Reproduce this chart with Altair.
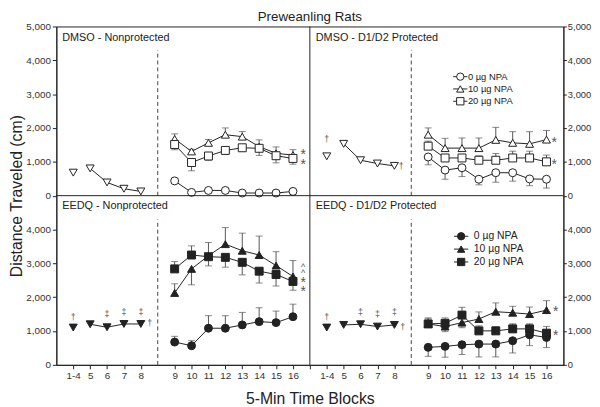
import altair as alt
import pandas as pd

FONT = "Liberation Sans"
INK = "#222222"

# ---------------- data ----------------
pre_blocks = ["1-4", "5", "6", "7", "8"]
npa_blocks = ["9", "10", "11", "12", "13", "14", "15", "16"]
tick_labels = [""] + pre_blocks + [""] + npa_blocks  # slot 0..14 inside a panel

main_title = "Preweanling Rats"
panel_names = ["DMSO - Nonprotected", "DMSO - D1/D2 Protected",
               "EEDQ - Nonprotected", "EEDQ - D1/D2 Protected"]
dose_labels = ["0 \u00b5g NPA", "10 \u00b5g NPA", "20 \u00b5g NPA"]

# DMSO - Nonprotected (signed SEM: + drawn upward, - drawn downward)
dn_pre = [680, 805, 390, 205, 125]
dn_pre_err = [0, 0, 0, 0, 0]
dn_0 = [436, 96, 154, 154, 78, 78, 78, 126]
dn_0_err = [0, 0, 0, 0, 0, 0, 0, 0]
dn_10 = [1676, 1308, 1561, 1802, 1744, 1450, 1250, 1200]
dn_10_err = [150, 60, 100, 200, 150, 200, 190, 160]
dn_20 = [1512, 980, 1172, 1337, 1415, 1400, 1180, 1100]
dn_20_err = [-155, -245, -125, -120, -100, -210, -210, -170]

# DMSO - D1/D2 Protected
dp_pre = [1163, 1531, 1047, 950, 881]
dp_pre_err = [0, 0, 0, 0, 0]
dp_0 = [1143, 756, 824, 485, 678, 678, 494, 485]
dp_0_err = [-230, -270, -260, -165, -280, -250, -200, -260]
dp_10 = [1802, 1405, 1405, 1405, 1648, 1561, 1531, 1657]
dp_10_err = [200, 290, 300, 300, 370, 330, 360, 270]
dp_20 = [1463, 1114, 1114, 1047, 1047, 1114, 1114, 1000]
dp_20_err = [150, 100, 100, 130, 200, 200, 200, 200]

# EEDQ - Nonprotected
en_pre = [1102, 1199, 1111, 1208, 1208]
en_pre_err = [0, 80, 80, 80, 80]
en_0 = [673, 565, 1082, 1082, 1180, 1277, 1248, 1423]
en_0_err = [170, 150, 370, 370, 370, 410, 340, 370]
en_10 = [2125, 2836, 3225, 3567, 3372, 3246, 2934, 2612]
en_10_err = [270, -470, -300, 490, 520, 560, 410, 470]
en_20 = [2836, 3246, 3196, 3177, 3030, 2768, 2670, 2465]
en_20_err = [215, 270, 420, -290, -370, -350, -340, -260]

# EEDQ - D1/D2 Protected
ep_pre = [1102, 1180, 1199, 1131, 1180]
ep_pre_err = [0, 80, 80, 80, 80]
ep_0 = [517, 546, 595, 614, 614, 712, 887, 810]
ep_0_err = [-265, -320, -290, -380, -380, -360, -320, -300]
ep_10 = [1209, 1131, 1248, 1354, 1570, 1540, 1500, 1617]
ep_10_err = [150, -150, -150, 210, 260, 190, 210, 280]
ep_20 = [1209, 1228, 1471, 1004, 1004, 1063, 1063, 936]
ep_20_err = [180, 160, 230, 150, 120, 150, 150, 200]

panel_series = [
    [(dn_pre, dn_pre_err), (dn_0, dn_0_err), (dn_10, dn_10_err), (dn_20, dn_20_err)],
    [(dp_pre, dp_pre_err), (dp_0, dp_0_err), (dp_10, dp_10_err), (dp_20, dp_20_err)],
    [(en_pre, en_pre_err), (en_0, en_0_err), (en_10, en_10_err), (en_20, en_20_err)],
    [(ep_pre, ep_pre_err), (ep_0, ep_0_err), (ep_10, ep_10_err), (ep_20, ep_20_err)],
]

# significance marks: (text, panel, slot, value)
notes = [
    ("*", 0, 14.6, 1290), ("*", 0, 14.6, 980),
    ("\u2020", 1, 1, 1686), ("\u2020", 1, 5.41, 881), ("*", 1, 14.45, 1648), ("*", 1, 14.45, 997),
    ("\u2020", 2, 1, 1424), ("\u2021", 2, 3, 1490), ("\u2021", 2, 4, 1570), ("\u2021", 2, 5, 1570),
    ("\u2020", 2, 5.53, 1228), ("^", 2, 14.6, 2880), ("^", 2, 14.6, 2700),
    ("*", 2, 14.6, 2500), ("*", 2, 14.6, 2240),
    ("\u2020", 3, 1, 1424), ("\u2021", 3, 3, 1550), ("\u2021", 3, 4, 1490), ("\u2021", 3, 5, 1550),
    ("\u2020", 3, 5.49, 1131), ("*", 3, 14.55, 1637), ("*", 3, 14.55, 936),
]

# ---------------- layout (panel placement in the shared coordinate frame) ----------------
panel_xoff = [0, 15, 0, 15]
panel_yoff = [5000, 5000, 0, 0]
panel_filled = [False, False, True, True]
series_shape = ["triangle-down", "circle", "triangle-up", "square"]

rows = []
for p in range(4):
    for s, (vals, errs) in enumerate(panel_series[p]):
        for i, (v, e) in enumerate(zip(vals, errs)):
            slot = i + 1 if s == 0 else i + 7
            grp = f"{p}-{s}" if not (s == 0 and i == 0) else f"{p}-lone"
            rows.append(dict(
                x=panel_xoff[p] + slot,
                y=panel_yoff[p] + v,
                y2=panel_yoff[p] + v + e,
                err=e,
                shape=series_shape[s],
                fill=INK if panel_filled[p] else "white",
                grp=grp,
            ))
df = pd.DataFrame(rows)
df_err = df[df["err"] != 0]

dash_df = pd.DataFrame(dict(x=[6, 21, 6, 21], y=[5000, 5000, 0, 0], y2=[9300, 9300, 4300, 4300]))
vdiv_df = pd.DataFrame(dict(x=[15], y=[0], y2=[10000]))
hdiv_df = pd.DataFrame(dict(x=[0], x2=[30], y=[5000]))
main_df = pd.DataFrame(dict(text=[main_title], x=[15], y=[10000]))

title_df = pd.DataFrame(dict(
    text=panel_names,
    x=[0.35, 15.35, 0.35, 15.35],
    y=[9660, 9660, 4680, 4680],
))

notes_df = pd.DataFrame(dict(
    text=[n[0] for n in notes],
    x=[panel_xoff[n[1]] + n[2] for n in notes],
    y=[panel_yoff[n[1]] + n[3] for n in notes],
))
star_df = notes_df[notes_df["text"] == "*"]
other_df = notes_df[notes_df["text"] != "*"]

leg_rows = []
for p, sx, tx, ys in [(1, 23.9, 24.35, [8517, 8154, 7790]), (3, 23.95, 24.7, [3800, 3420, 3040])]:
    for k in range(3):
        leg_rows.append(dict(x=sx, xa=sx - 0.42, xb=sx + 0.42, tx=tx, y=ys[k],
                             text=dose_labels[k], shape=series_shape[k + 1],
                             fill=INK if panel_filled[p] else "white",
                             fs=9.5 if p == 1 else 10.5))
leg_df = pd.DataFrame(leg_rows)

# ---------------- encodings ----------------
XS = alt.Scale(domain=[0, 30], nice=False, zero=False)
YS = alt.Scale(domain=[0, 10000], nice=False, zero=True)

lbl_js = "[" + ",".join(f"'{t}'" for t in tick_labels) + "]"
x_axis = alt.Axis(
    values=[1, 2, 3, 4, 5, 7, 8, 9, 10, 11, 12, 13, 14, 15, 16, 17, 18, 19, 20, 22, 23, 24, 25, 26, 27, 28, 29],
    labelExpr=f"{lbl_js}[round(datum.value) % 15]",
    title="5-Min Time Blocks", titleFontSize=16, titleFont=FONT, titleFontWeight="normal",
    titleColor="#222", titlePadding=10,
    labelFontSize=10, labelFont=FONT, labelColor="#333", tickSize=4, labelPadding=2,
    domainColor="#222", tickColor="#222", labelFlush=False, labelOverlap=False,
)
X = alt.X("x:Q", scale=XS, axis=x_axis)

y_lbl = "format(datum.value >= 5000 ? datum.value - 5000 : datum.value, ',')"
y_vals = list(range(0, 10001, 1000))
y_left = alt.Axis(values=y_vals, labelExpr=y_lbl, orient="left",
                  title="Distance Traveled (cm)", titleFontSize=16, titleFont=FONT,
                  titleFontWeight="normal", titleColor="#222",
                  titleX=-40, titleY=171.5, titleAngle=-90, titleAlign="center", titleBaseline="middle",
                  labelFontSize=10, labelFont=FONT, labelColor="#333", tickSize=4, labelPadding=2,
                  domainColor="#222", tickColor="#222", labelOverlap=False, labelFlush=False)
y_right = alt.Axis(values=y_vals, labelExpr=y_lbl, orient="right", title=None,
                   labelFontSize=9.5, labelFont=FONT, labelColor="#333", tickSize=3, labelPadding=1,
                   domainColor="#222", tickColor="#222", labelOverlap=False, labelFlush=False)


def Y(field="y", axis=None):
    return alt.Y(f"{field}:Q", scale=YS, axis=axis)


vdiv = alt.Chart(vdiv_df).mark_rule(color="#222", strokeWidth=1).encode(
    x=X, y=Y(axis=y_left), y2="y2:Q")
hdiv = alt.Chart(hdiv_df).mark_rule(color="#222", strokeWidth=1).encode(
    x=X, x2="x2:Q", y=Y(axis=y_right))
dashes = alt.Chart(dash_df).mark_rule(color="#444", strokeWidth=1, strokeDash=[4, 3]).encode(
    x=X, y=Y(), y2="y2:Q")

lines = alt.Chart(df).mark_line(color=INK, strokeWidth=1).encode(
    x=X, y=Y(), detail="grp:N", order="x:Q")
err_rule = alt.Chart(df_err).mark_rule(color="#555", strokeWidth=1).encode(
    x=X, y=Y(), y2="y2:Q")
err_cap = alt.Chart(df_err).mark_tick(color="#555", orient="horizontal", size=7, thickness=1).encode(
    x=X, y=Y("y2"))
points = alt.Chart(df).mark_point(filled=True, size=65, stroke=INK, strokeWidth=1, opacity=1).encode(
    x=X, y=Y(),
    shape=alt.Shape("shape:N", scale=None),
    fill=alt.Fill("fill:N", scale=None))

main_t = alt.Chart(main_df).mark_text(align="center", baseline="alphabetic", font=FONT, fontSize=13.5,
                                      color="#222", dy=-6).encode(x=X, y=Y(), text="text:N")
ptitles = alt.Chart(title_df).mark_text(align="left", baseline="middle", font=FONT, fontSize=11,
                                        color="#222").encode(x=X, y=Y(), text="text:N")
stars = alt.Chart(star_df).mark_text(align="center", baseline="middle", font=FONT, fontSize=14,
                                     color="#555", dy=3).encode(x=X, y=Y(), text="text:N")
others = alt.Chart(other_df).mark_text(align="center", baseline="middle", font=FONT, fontSize=9,
                                       color="#555").encode(x=X, y=Y(), text="text:N")

leg_line = alt.Chart(leg_df).mark_rule(color=INK, strokeWidth=1).encode(
    x=alt.X("xa:Q", scale=XS, axis=x_axis), x2="xb:Q", y=Y())
leg_pts = alt.Chart(leg_df).mark_point(filled=True, size=55, stroke=INK, strokeWidth=1, opacity=1).encode(
    x=X, y=Y(), shape=alt.Shape("shape:N", scale=None), fill=alt.Fill("fill:N", scale=None))
leg_txt = alt.Chart(leg_df).mark_text(align="left", baseline="middle", font=FONT, color="#222").encode(
    x=alt.X("tx:Q", scale=XS, axis=x_axis), y=Y(), text="text:N",
    size=alt.Size("fs:Q", scale=None))

chart = alt.layer(
    dashes, err_rule, err_cap, lines, points, vdiv, hdiv,
    main_t, ptitles, stars, others, leg_line, leg_pts, leg_txt,
).resolve_axis(y="independent").properties(
    width=514, height=343,
    autosize="none",
    padding={"left": 49, "top": 16, "right": 29, "bottom": 40},
).configure_view(stroke="#222", strokeWidth=1).configure_axis(grid=False)

chart.save("out.html", embed_options={"renderer": "svg", "actions": False})
